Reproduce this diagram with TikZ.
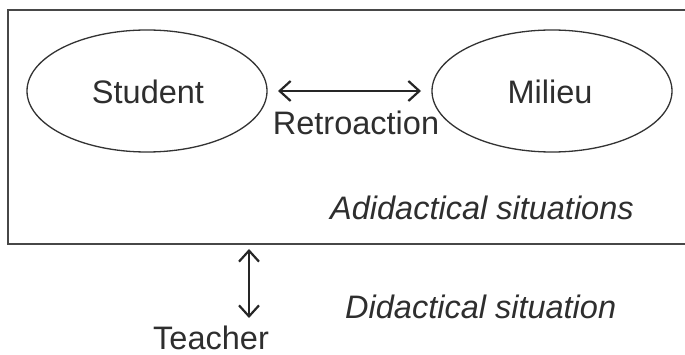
\documentclass[tikz,border=0pt]{standalone}
\usepackage{fontspec}
\setmainfont{Liberation Sans}
\usetikzlibrary{shapes.geometric,arrows.meta}
\begin{document}
\begin{tikzpicture}[x=1pt,y=-1pt,
  lbl/.style={font=\fontsize{32.5}{36}\selectfont, text=black!82, inner sep=0pt},
  ilbl/.style={font=\fontsize{32.5}{36}\selectfont\itshape, text=black!82, inner sep=0pt},
  ell/.style={draw=black!80, line width=1.3pt, ellipse, minimum width=240pt, minimum height=122pt, inner sep=0pt},
  dbl/.style={draw=black!85, line width=2.2pt, {Straight Barb[length=11pt,width=20pt]}-{Straight Barb[length=11pt,width=20pt]}}]
\useasboundingbox (0,0) rectangle (685,355);
\fill[white] (0,0) rectangle (685,355);
\draw[black!72, line width=2.4pt] (685,10) -- (8,10) -- (8,244) -- (685,244);
\node[ell] (student) at (147,91) {};
\node[ell] (milieu) at (552,91) {};
\node[lbl] at (148,92) {Student};
\node[lbl] at (550,92) {Milieu};
\coordinate (a1) at (278,91);
\coordinate (a2) at (421,91);
\draw[dbl] (a1) -- (a2);
\node[lbl, anchor=base] (retro) at (356,135) {Retroaction};
\node[ilbl, anchor=base west] (adi) at (330,220) {Adidactical situations};
\node[ilbl, anchor=base west] (di) at (345,318) {Didactical situation};
\node[lbl, anchor=base] (teacher) at (211,349) {Teacher};
\coordinate (v1) at (249,249);
\coordinate (v2) at (249,318);
\draw[dbl] (v1) -- (v2);
\end{tikzpicture}
\end{document}
